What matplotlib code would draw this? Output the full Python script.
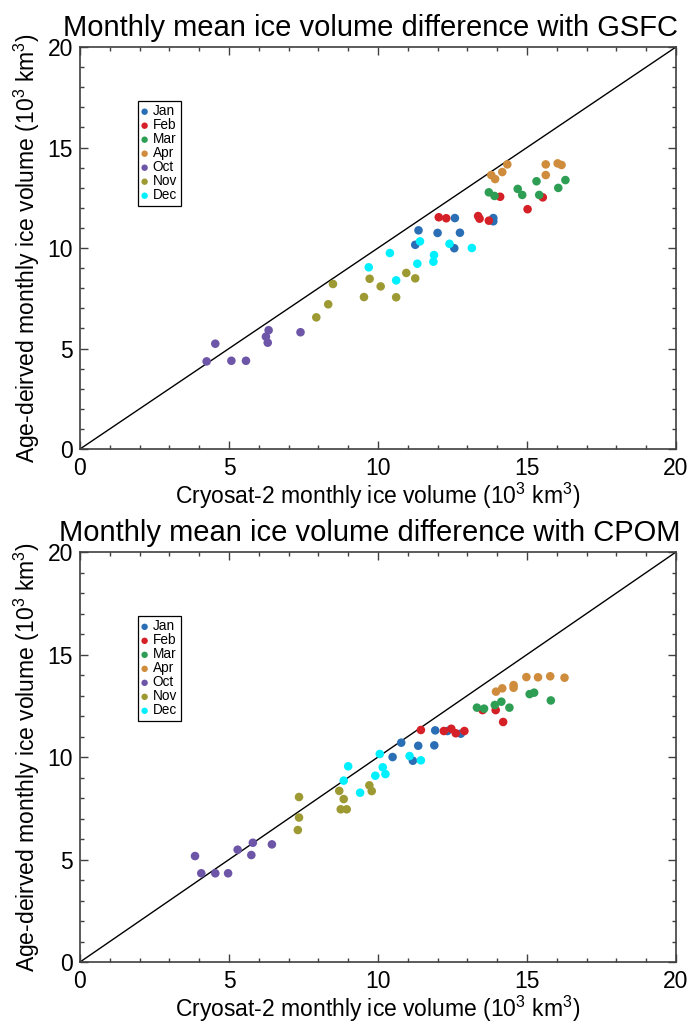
import numpy as np
import matplotlib
matplotlib.use('Agg')
import matplotlib.pyplot as plt
from matplotlib.ticker import MultipleLocator

plt.rcParams['font.family'] = ['Liberation Sans', 'DejaVu Sans']
plt.rcParams['mathtext.fontset'] = 'custom'
plt.rcParams['mathtext.rm'] = 'Liberation Sans'
plt.rcParams['mathtext.it'] = 'Liberation Sans'

months = ['Jan', 'Feb', 'Mar', 'Apr', 'Oct', 'Nov', 'Dec']
colors = ['#2a6fb5', '#d42026', '#2f9e55', '#cf8c3c', '#6d55a8', '#9e9a33', '#00f0ff']

# GSFC panel: (cryosat, age-derived) per month
gsfc_jan_x = [11.36, 11.25, 12.00, 12.58, 12.75, 12.56, 13.87, 13.87]
gsfc_jan_y = [10.88, 10.16, 10.75, 11.49, 10.76, 9.99, 11.49, 11.33]
gsfc_feb_x = [12.04, 12.29, 13.36, 13.41, 13.72, 14.10, 15.02, 15.53]
gsfc_feb_y = [11.53, 11.48, 11.59, 11.46, 11.36, 12.55, 11.93, 12.52]
gsfc_mar_x = [13.72, 13.91, 14.69, 14.84, 15.32, 15.41, 16.05, 16.29]
gsfc_mar_y = [12.77, 12.59, 12.94, 12.64, 13.32, 12.64, 12.99, 13.38]
gsfc_apr_x = [13.80, 13.93, 14.17, 14.34, 15.63, 15.63, 16.03, 16.16]
gsfc_apr_y = [13.63, 13.43, 13.78, 14.16, 14.16, 13.63, 14.21, 14.13]
gsfc_oct_x = [4.25, 4.54, 5.08, 5.57, 6.33, 6.24, 6.30, 7.40]
gsfc_oct_y = [4.36, 5.24, 4.39, 4.39, 5.91, 5.59, 5.29, 5.81]
gsfc_nov_x = [8.49, 8.33, 7.93, 9.53, 9.72, 10.09, 10.61, 10.95, 11.25]
gsfc_nov_y = [8.21, 7.20, 6.55, 7.56, 8.47, 8.09, 7.55, 8.76, 8.49]
gsfc_dec_x = [9.69, 10.40, 10.61, 11.32, 11.41, 11.88, 11.86, 12.40, 13.15]
gsfc_dec_y = [9.04, 9.75, 8.39, 9.22, 10.33, 9.65, 9.32, 10.21, 10.00]

# CPOM panel
cpom_jan_x = [10.49, 10.78, 11.35, 11.17, 11.89, 11.92, 12.33, 12.78]
cpom_jan_y = [10.00, 10.70, 10.55, 9.82, 10.57, 11.30, 11.27, 11.14]
cpom_feb_x = [11.44, 12.21, 12.46, 12.61, 12.90, 13.51, 13.95, 14.20]
cpom_feb_y = [11.32, 11.27, 11.38, 11.16, 11.27, 12.29, 12.29, 11.71]
cpom_mar_x = [13.32, 13.56, 13.92, 14.14, 14.41, 15.09, 15.24, 15.80]
cpom_mar_y = [12.41, 12.36, 12.54, 12.70, 12.41, 13.07, 13.14, 12.76]
cpom_apr_x = [13.96, 14.17, 14.55, 14.55, 14.98, 15.37, 15.78, 16.26]
cpom_apr_y = [13.19, 13.35, 13.51, 13.38, 13.90, 13.89, 13.94, 13.87]
cpom_oct_x = [3.86, 4.07, 4.54, 4.97, 5.29, 5.80, 5.75, 6.44]
cpom_oct_y = [5.17, 4.33, 4.33, 4.33, 5.48, 5.82, 5.22, 5.74]
cpom_nov_x = [7.31, 7.35, 7.35, 8.75, 8.95, 8.70, 8.85, 9.71, 9.79]
cpom_nov_y = [6.44, 7.05, 8.05, 7.45, 7.45, 8.35, 7.95, 8.62, 8.34]
cpom_dec_x = [9.40, 9.91, 10.25, 10.16, 10.06, 11.06, 11.44, 8.85, 9.00]
cpom_dec_y = [8.26, 9.09, 9.17, 9.50, 10.15, 10.05, 9.84, 8.85, 9.55]

gsfc = [(gsfc_jan_x, gsfc_jan_y), (gsfc_feb_x, gsfc_feb_y), (gsfc_mar_x, gsfc_mar_y),
        (gsfc_apr_x, gsfc_apr_y), (gsfc_oct_x, gsfc_oct_y), (gsfc_nov_x, gsfc_nov_y),
        (gsfc_dec_x, gsfc_dec_y)]
cpom = [(cpom_jan_x, cpom_jan_y), (cpom_feb_x, cpom_feb_y), (cpom_mar_x, cpom_mar_y),
        (cpom_apr_x, cpom_apr_y), (cpom_oct_x, cpom_oct_y), (cpom_nov_x, cpom_nov_y),
        (cpom_dec_x, cpom_dec_y)]

fig = plt.figure(figsize=(6.89, 10.24), dpi=100)
ax1 = fig.add_axes([0.1161, 0.5615, 0.865, 0.3926])
ax2 = fig.add_axes([0.1161, 0.0605, 0.865, 0.4004])

frame = '#404040'


def draw_panel(ax, data, title, leg_y):
    ax.plot([0, 20], [0, 20], color='black', lw=1.0, zorder=1)
    for (xs, ys), m, c in zip(data, months, colors):
        ax.scatter(xs, ys, s=38, color=c, edgecolors='none', label=m, zorder=3)
    ax.set_xlim(0, 20)
    ax.set_ylim(0, 20)
    ax.xaxis.set_major_locator(MultipleLocator(5))
    ax.yaxis.set_major_locator(MultipleLocator(5))
    ax.xaxis.set_minor_locator(MultipleLocator(1))
    ax.yaxis.set_minor_locator(MultipleLocator(1))
    ax.tick_params(which='both', direction='in', top=True, right=True,
                   color=frame, width=1.0, labelsize=16.5)
    ax.tick_params(which='major', length=6)
    ax.tick_params(which='minor', length=3)
    ax.tick_params(axis='x', pad=6)
    ax.tick_params(axis='y', pad=5)
    for s in ax.spines.values():
        s.set_color(frame)
        s.set_linewidth(1.2)
    ax.set_title(title, fontsize=21, pad=8, x=0.487)
    ax.set_xlabel('Cryosat-2 monthly ice volume (10$^3$ km$^3$)', fontsize=16.5, labelpad=0)
    ax.set_ylabel('Age-deirved monthly ice volume (10$^3$ km$^3$)', fontsize=16.5, labelpad=4)
    leg = ax.legend(loc='upper left', bbox_to_anchor=(0.097, leg_y), fontsize=9.8,
                    frameon=True, fancybox=False, edgecolor='black', framealpha=1,
                    handlelength=0.5, handletextpad=0.35, labelspacing=0.0,
                    borderpad=0.25, borderaxespad=0, markerscale=0.75)
    leg.get_frame().set_linewidth(0.9)


draw_panel(ax1, gsfc, 'Monthly mean ice volume difference with GSFC', 0.866)
draw_panel(ax2, cpom, 'Monthly mean ice volume difference with CPOM', 0.844)

fig.savefig('out.png', dpi=100)
